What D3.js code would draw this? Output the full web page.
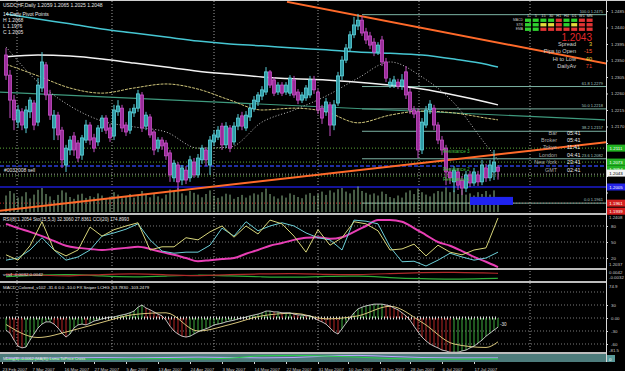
<!DOCTYPE html>
<html>
<head>
<meta charset="utf-8">
<title>USDCHF, Daily</title>
<script src="https://cdn.jsdelivr.net/npm/d3@7/dist/d3.min.js"></script>
<style>
  html, body { margin: 0; padding: 0; background: #000; overflow: hidden; }
  svg { display: block; font-family: "Liberation Sans", Arial, sans-serif; }
  .axis path, .axis line { stroke: #d8d8d8; }
  .axis text { fill: #c8c8c8; font-size: 4.4px; }
</style>
</head>
<body>
<script>
var w = 625,
    h = 371;

// daily bars, 23 Feb 2007 .. 24 Jul 2007
var opens = [
  1.2365,1.2310,1.2242,1.2182,1.2210,1.2166,1.2210,1.2234,1.2182,1.2275,
  1.2338,1.2256,1.2166,1.2201,1.2160,1.2065,1.2106,1.2144,1.2125,1.2092,
  1.2133,1.2174,1.2139,1.2128,1.2166,1.2193,1.2166,1.2144,1.2210,1.2220,
  1.2174,1.2160,1.2207,1.2220,1.2256,1.2171,1.2196,1.2155,1.2111,1.2133,
  1.2125,1.2098,1.2030,1.2065,1.2024,1.2051,1.2030,1.2073,1.2038,1.2079,
  1.2106,1.2065,1.2128,1.2141,1.2171,1.2120,1.2166,1.2128,1.2171,1.2199,
  1.2166,1.2196,1.2218,1.2237,1.2253,1.2264,1.2319,1.2297,1.2264,1.2283,
  1.2264,1.2261,1.2297,1.2264,1.2242,1.2248,1.2256,1.2297,1.2264,1.2220,
  1.2210,1.2229,1.2174,1.2234,1.2308,1.2351,1.2384,1.2420,1.2444,1.2460,
  1.2428,1.2417,1.2400,1.2373,1.2406,1.2346,1.2283,1.2283,1.2291,1.2280,
  1.2319,1.2264,1.2215,1.2210,1.2106,1.2174,1.2215,1.2220,1.2174,1.2133,
  1.2111,1.2046,1.2019,1.2046,1.2024,1.2002,1.2038,1.2016,1.2038,1.2019,
  1.2057,1.2030,1.2046,1.2059];
var highs = [
  1.2384,1.2324,1.2256,1.2229,1.2220,1.2226,1.2250,1.2242,1.2302,1.2373,
  1.2346,1.2270,1.2215,1.2210,1.2169,1.2120,1.2144,1.2155,1.2133,1.2147,
  1.2188,1.2182,1.2150,1.2174,1.2201,1.2201,1.2177,1.2229,1.2242,1.2229,
  1.2182,1.2220,1.2231,1.2270,1.2264,1.2210,1.2204,1.2160,1.2141,1.2141,
  1.2133,1.2106,1.2079,1.2073,1.2065,1.2062,1.2090,1.2084,1.2095,1.2120,
  1.2114,1.2144,1.2160,1.2171,1.2180,1.2182,1.2174,1.2182,1.2204,1.2210,
  1.2212,1.2231,1.2253,1.2264,1.2280,1.2332,1.2324,1.2305,1.2291,1.2291,
  1.2291,1.2310,1.2308,1.2272,1.2264,1.2283,1.2308,1.2308,1.2272,1.2229,
  1.2248,1.2237,1.2242,1.2319,1.2362,1.2395,1.2430,1.2469,1.2477,1.2471,
  1.2439,1.2428,1.2411,1.2400,1.2417,1.2357,1.2302,1.2308,1.2300,1.2313,
  1.2335,1.2275,1.2226,1.2220,1.2193,1.2226,1.2242,1.2229,1.2182,1.2144,
  1.2120,1.2057,1.2062,1.2057,1.2035,1.2049,1.2049,1.2057,1.2049,1.2079,
  1.2068,1.2079,1.2106,1.2065];
var lows = [
  1.2297,1.2193,1.2160,1.2166,1.2160,1.2152,1.2193,1.2160,1.2171,1.2264,
  1.2242,1.2188,1.2133,1.2133,1.2057,1.2046,1.2092,1.2090,1.2073,1.2079,
  1.2125,1.2120,1.2100,1.2117,1.2155,1.2150,1.2128,1.2133,1.2199,1.2155,
  1.2144,1.2150,1.2196,1.2210,1.2155,1.2160,1.2139,1.2092,1.2100,1.2106,
  1.2079,1.2019,1.2019,1.1997,1.2010,1.2013,1.2019,1.2030,1.2030,1.2068,
  1.2062,1.2038,1.2117,1.2133,1.2106,1.2111,1.2100,1.2120,1.2160,1.2160,
  1.2158,1.2185,1.2210,1.2226,1.2242,1.2256,1.2275,1.2253,1.2256,1.2253,
  1.2256,1.2253,1.2248,1.2231,1.2234,1.2240,1.2248,1.2259,1.2204,1.2177,
  1.2199,1.2144,1.2160,1.2226,1.2297,1.2343,1.2376,1.2411,1.2433,1.2417,
  1.2395,1.2381,1.2362,1.2365,1.2335,1.2291,1.2275,1.2275,1.2272,1.2270,
  1.2245,1.2204,1.2193,1.2084,1.2095,1.2166,1.2204,1.2160,1.2122,1.2092,
  1.2010,1.2013,1.1991,1.1997,1.1983,1.1991,1.2005,1.2008,1.2008,1.2010,
  1.2019,1.2021,1.2024,1.2025];
var closes = [
  1.2310,1.2242,1.2188,1.2215,1.2174,1.2215,1.2242,1.2174,1.2283,1.2346,
  1.2256,1.2201,1.2201,1.2147,1.2079,1.2111,1.2133,1.2106,1.2084,1.2139,
  1.2174,1.2133,1.2111,1.2166,1.2193,1.2160,1.2139,1.2215,1.2226,1.2166,
  1.2155,1.2210,1.2220,1.2259,1.2166,1.2201,1.2147,1.2106,1.2133,1.2117,
  1.2090,1.2038,1.2070,1.2019,1.2057,1.2024,1.2079,1.2038,1.2084,1.2111,
  1.2079,1.2133,1.2147,1.2160,1.2120,1.2171,1.2111,1.2171,1.2193,1.2171,
  1.2201,1.2220,1.2242,1.2256,1.2270,1.2319,1.2283,1.2261,1.2283,1.2261,
  1.2283,1.2302,1.2256,1.2242,1.2256,1.2275,1.2297,1.2270,1.2215,1.2193,
  1.2237,1.2174,1.2229,1.2308,1.2351,1.2384,1.2420,1.2447,1.2460,1.2425,
  1.2406,1.2392,1.2373,1.2392,1.2346,1.2302,1.2291,1.2297,1.2280,1.2297,
  1.2256,1.2215,1.2204,1.2106,1.2182,1.2215,1.2231,1.2174,1.2133,1.2106,
  1.2046,1.2030,1.2051,1.2010,1.2002,1.2038,1.2016,1.2046,1.2019,1.2065,
  1.2030,1.2065,1.2073,1.2048];
var volumes = [
  55,70,62,48,52,66,45,58,74,80, 60,52,40,57,72,65,50,44,58,61,
  47,53,49,62,55,43,51,66,58,46, 52,60,48,55,70,57,49,63,52,45,
  58,75,68,80,62,55,70,64,58,49, 60,72,54,47,52,61,58,44,50,57,
  48,55,62,58,66,78,60,52,45,55, 48,62,57,50,46,58,63,54,60,68,
  57,72,65,76,80,68,62,74,85,70, 64,58,62,55,68,60,50,46,55,48,
  65,72,60,78,66,58,52,62,70,68, 82,66,72,60,75,58,62,55,66,60,
  70,58,72,40];
var macd = [
  -28,-35,-51,-65,-69,-67,-51,-37,-23,-14, -9,-9,-14,-23,-35,-44,-37,-23,-16,-14,
  -16,-12,-7,-5,-2,0,2,2,5,7, 9,12,16,25,30,23,19,14,9,5,
  -5,-19,-30,-37,-42,-44,-42,-37,-32,-28, -25,-21,-16,-14,-12,-9,-7,-5,-2,0,
  2,5,7,9,12,16,16,14,14,12, 12,12,9,7,7,5,5,0,-5,-9,
  -14,-23,-32,-37,-25,-12,0,12,21,25, 28,30,32,32,32,30,28,23,19,12,
  5,-5,-19,-32,-44,-53,-60,-65,-69,-74, -76,-79,-79,-79,-76,-74,-69,-65,-58,-51,
  -42,-35,-28,-21];

// smoother lines, read every 8 bars
var sampleBars = [0, 8, 16, 24, 32, 40, 48, 56, 64, 72, 80, 88, 96, 104, 112, 120, 123];
var maCyan   = [1.2477,1.2463,1.2450,1.2436,1.2425,1.2414,1.2403,1.2395,1.2390,1.2384,1.2379,1.2373,1.2370,1.2365,1.2354,1.2340,1.2332];
var maWhite  = [1.2360,1.2365,1.2362,1.2354,1.2343,1.2332,1.2321,1.2313,1.2305,1.2300,1.2297,1.2291,1.2283,1.2272,1.2256,1.2237,1.2229];
var maKhaki  = [1.2340,1.2308,1.2275,1.2261,1.2275,1.2286,1.2272,1.2242,1.2215,1.2220,1.2210,1.2180,1.2201,1.2212,1.2207,1.2193,1.2188];
var maDotted = [1.2387,1.2291,1.2226,1.2185,1.2169,1.2155,1.2111,1.2114,1.2182,1.2215,1.2253,1.2302,1.2346,1.2305,1.2234,1.2120,1.2079];
var macdSignal = [-15,-45,-30,-10,8,12,-30,-15,5,11,-2,5,27,-10,-60,-68,-55];
var vsaRed   = [0.0012,0.0005,-0.0008,0.0010,0.0018,0.0006,-0.0004,0.0008,0.0015,0.0020,0.0010,0.0005,0.0018,0.0028,0.0030,0.0022,0.0020];
var vsaGreen = [-0.0010,0.0004,0.0012,-0.0005,-0.0015,-0.0005,0.0006,-0.0004,-0.0012,-0.0018,-0.0008,-0.0002,-0.0020,-0.0030,-0.0035,-0.0028,-0.0025];
var mlGreen  = [0.2,0.25,0.3,0.25,0.3,0.35,0.3,0.4,0.75,0.8,0.7,0.55,0.35,0.3,0.25,0.3,0.3];
var mlViolet = [0.45,0.4,0.45,0.5,0.45,0.5,0.55,0.5,0.45,0.5,0.7,0.8,0.65,0.5,0.45,0.45,0.45];

// oscillators, read every 3 bars
var oscBars = [0,3,6,9,12,15,18,21,24,27,30,33,36,39,42,45,48,51,54,57,60,63,66,69,72,75,78,81,84,87,90,93,96,99,102,105,108,111,114,117,120,123];
var rsiLine   = [84,76,69,61,52,43,39,37,35,37,39,41,37,31,26,20,14,16,18,20,28,35,43,48,54,58,59,56,59,69,80,91,91,88,76,63,50,43,33,22,13,3];
var stochLine = [16,20,35,58,35,16,22,35,61,67,74,84,54,33,29,31,31,44,76,61,88,71,80,86,80,67,58,54,35,91,89,84,41,13,14,5,16,29,22,16,20,31];
var cciLine   = [26,16,43,88,35,24,35,78,61,73,80,86,35,41,41,58,54,69,80,59,80,65,91,84,61,31,73,44,58,88,84,71,35,37,46,24,44,31,26,35,39,95];

var dateBars = [-1, 6.5, 14.5, 22, 30, 38, 46, 54, 62, 70, 78, 85.5, 93.5, 101, 109, 117];
var dateLabels = ["23 Feb 2007","7 Mar 2007","16 Mar 2007","27 Mar 2007","5 Apr 2007","13 Apr 2007",
  "24 Apr 2007","3 May 2007","14 May 2007","22 May 2007","31 May 2007","10 Jun 2007",
  "19 Jun 2007","28 Jun 2007","6 Jul 2007","17 Jul 2007"];
var gridBars = [2.75, 26.5, 52, 78, 103.25, 131];
var priceTicks = [1.2485,1.2440,1.2395,1.2350,1.2305,1.2260,1.2215,1.2170,1.2125,1.2080,1.2035,1.1990];

// drawn objects
var fibLevels = [100.0, 61.8, 50.0, 38.2, 23.6, 0.0];
var fibPrices = [1.2475, 1.2279, 1.2218, 1.2157, 1.2082, 1.1961];
var fibStartBar = 89;
var upperTrendBars = [70.25, 154.75], upperTrendPrices = [1.2510, 1.2332];
var lowerTrendBars = [-1.5, 154.75],  lowerTrendPrices = [1.1940, 1.2133];
var greenTrendBars = [-1.5, 149.75],  greenTrendPrices = [1.2264, 1.2188];
var resistNames = ["Resistance 3", "Resistance 2", "Resistance 1"];
var resistPrices = [1.2111, 1.2062, 1.2035];
var extraDotPrice = 1.2073;
var orderPrice = 1.2040, orderName = "#0032008 sell";
var blueLinePrice = 1.2005, redLinePrice = 1.1961;
var boxBars = [116, 126.75], boxPrices = [1.1978, 1.1956];
var greenMarks = [1.2111, 1.2073, 1.2054];
var bidPrice = 1.2043, blueMark = 1.2005, redMarks = [1.1961, 1.1939];

// info panel
var tfNames = ["1","5","15","30","H1","H4","D1","W1","MN"];
var sigRows = ["MACD","STR","EMA"];
var sigStates = ["GGGGRGGRR", "GGYYRGYRR", "GGRRRRRRR"];
var statNames = ["Spread", "Pips to Open", "Hi to Low", "DailyAv"];
var statValues = ["3", "-15", "40", "71"];
var clockNames = ["Bar", "Broker", "Tokyo", "London", "New York", "GMT"];
var clockValues = ["05:41", "05:41", "11:41", "04:41", "23:41", "02:41"];

var x = d3.scaleLinear().domain([0, 123]).range([6, 498]),
    yPrice = d3.scaleLinear().domain([1.2485, 1.1990]).range([11, 192.5]),
    yVol = d3.scaleLinear().domain([0, 100]).range([212, 182]),
    yOsc = d3.scaleLinear().domain([0, 100]).range([268.7, 215.3]),
    yVsa = d3.scaleLinear().domain([-0.005, 0.005]).range([281, 270]),
    yMacd = d3.scaleLinear().domain([0, -60]).range([318, 344]),
    yMl = d3.scaleLinear().domain([0, 1]).range([361, 354]);

var svg = d3.select("body").append("svg")
    .attr("width", w)
    .attr("height", h);

svg.append("rect").attr("width", w).attr("height", h).attr("fill", "#000");

var defs = svg.append("defs");
function clipRect(id, y0, y1) {
  defs.append("clipPath").attr("id", id).append("rect")
    .attr("x", 0).attr("y", y0).attr("width", 606).attr("height", y1 - y0);
}
clipRect("clip-main", 1, 213);
clipRect("clip-osc", 215, 268);
clipRect("clip-vsa", 270, 281);
clipRect("clip-macd", 283, 352);

// top border and panel separators
svg.append("line").attr("x1", 0).attr("x2", w).attr("y1", 0.5).attr("y2", 0.5)
  .attr("stroke", "#d0d0d0");
svg.append("g").selectAll("line").data([214, 269, 282, 353]).enter().append("line")
  .attr("x1", 0).attr("x2", 606)
  .attr("y1", function(d) { return d; }).attr("y2", function(d) { return d; })
  .attr("stroke", "#bdbdbd").attr("stroke-width", 2);

// vertical grid
svg.append("g").selectAll("line").data(gridBars).enter().append("line")
  .attr("x1", function(d) { return x(d); }).attr("x2", function(d) { return x(d); })
  .attr("y1", 1).attr("y2", 352)
  .attr("stroke", "#c8c8c8").attr("stroke-width", 0.8).attr("stroke-dasharray", "1,2");

// ---------- main panel ----------
var main = svg.append("g").attr("clip-path", "url(#clip-main)");

function hline(g, price, color, dash, width) {
  g.append("line").attr("x1", 0).attr("x2", 606)
    .attr("y1", yPrice(price)).attr("y2", yPrice(price))
    .attr("stroke", color).attr("stroke-width", width || 1)
    .attr("stroke-dasharray", dash);
}
resistPrices.forEach(function(p, i) {
  if (i === 1) hline(main, p, "#2a3fd8", "4,2", 1.5);
  else hline(main, p, "#5da83a", "1,2");
});
hline(main, extraDotPrice, "#5da83a", "1,2");
hline(main, orderPrice, "#a0a0a0", "1,2");
hline(main, blueLinePrice, "#14149a", null, 2);
hline(main, redLinePrice, "#c02020", "1,2");

// fibonacci retracement
main.selectAll(".fib").data(fibPrices).enter().append("line")
  .attr("x1", x(fibStartBar)).attr("x2", 606)
  .attr("y1", function(d) { return yPrice(d); }).attr("y2", function(d) { return yPrice(d); })
  .attr("stroke", "#7cb3a4").attr("stroke-width", 1);

// volumes
main.selectAll(".vol").data(volumes).enter().append("line")
  .attr("x1", function(d, i) { return x(i); }).attr("x2", function(d, i) { return x(i); })
  .attr("y1", yVol(0)).attr("y2", function(d) { return yVol(d); })
  .attr("stroke", "#8db98a").attr("stroke-width", 1);

main.append("rect")
  .attr("x", x(boxBars[0])).attr("width", x(boxBars[1]) - x(boxBars[0]))
  .attr("y", yPrice(boxPrices[0])).attr("height", yPrice(boxPrices[1]) - yPrice(boxPrices[0]))
  .attr("fill", "#1f23f0");

function trend(bars, prices, color, width) {
  main.append("line")
    .attr("x1", x(bars[0])).attr("y1", yPrice(prices[0]))
    .attr("x2", x(bars[1])).attr("y2", yPrice(prices[1]))
    .attr("stroke", color).attr("stroke-width", width);
}
trend(greenTrendBars, greenTrendPrices, "#3f9a7e", 1.2);

var sampleLine = d3.line()
  .x(function(d, i) { return x(sampleBars[i]); })
  .y(function(d) { return yPrice(d); })
  .curve(d3.curveMonotoneX);

function ma(values, color, width, dash) {
  main.append("path").datum(values).attr("d", sampleLine)
    .attr("fill", "none").attr("stroke", color)
    .attr("stroke-width", width).attr("stroke-dasharray", dash);
}
ma(maCyan, "#46c6d2", 1.5);
ma(maWhite, "#f2f2f2", 1.5);
ma(maKhaki, "#cfc57a", 1, "3,1");
ma(maDotted, "#d8d8d8", 0.9, "1,2");

trend(upperTrendBars, upperTrendPrices, "#ff6a2a", 2);
trend(lowerTrendBars, lowerTrendPrices, "#ff6a2a", 2);

// candles
var bars = d3.range(opens.length);
main.selectAll(".wick").data(bars).enter().append("line")
  .attr("x1", function(i) { return x(i); }).attr("x2", function(i) { return x(i); })
  .attr("y1", function(i) { return yPrice(highs[i]); })
  .attr("y2", function(i) { return yPrice(lows[i]); })
  .attr("stroke", function(i) { return closes[i] >= opens[i] ? "#58cdd6" : "#c24fc2"; });

main.selectAll(".body").data(bars).enter().append("rect")
  .attr("x", function(i) { return x(i) - 1.5; })
  .attr("width", 3)
  .attr("y", function(i) { return yPrice(Math.max(opens[i], closes[i])); })
  .attr("height", function(i) {
    return Math.max(1, Math.abs(yPrice(opens[i]) - yPrice(closes[i])));
  })
  .attr("fill", function(i) { return closes[i] >= opens[i] ? "#2f9aa4" : "#9a2c9a"; })
  .attr("stroke", function(i) { return closes[i] >= opens[i] ? "#5fd3dc" : "#c850c8"; })
  .attr("stroke-width", 0.8);

// main panel labels
var txt = svg.append("g").attr("font-size", 5).attr("fill", "#e6e6e6");
txt.append("text").attr("x", 3).attr("y", 7)
  .text("USDCHF,Daily  " + [opens[123], highs[123], lows[123], closes[123]]
    .map(d3.format(".4f")).join(" "));
txt.append("text").attr("x", 3).attr("y", 16).text("14 Daily Pivot Points");
txt.append("text").attr("x", 3).attr("y", 22).text("H 1.2068");
txt.append("text").attr("x", 3).attr("y", 28).text("L 1.1976");
txt.append("text").attr("x", 3).attr("y", 34).text("C 1.2005");
txt.append("text").attr("x", 4).attr("y", yPrice(orderPrice) - 2).text(orderName);

svg.append("g").selectAll("text").data(resistNames).enter().append("text")
  .attr("x", 443).attr("y", function(d, i) { return yPrice(resistPrices[i]) + 4.5; })
  .attr("font-size", 4.6).attr("fill", "#46c040")
  .text(function(d) { return d; });

svg.append("g").selectAll("text").data(fibLevels).enter().append("text")
  .attr("x", 603).attr("y", function(d, i) { return yPrice(fibPrices[i]) - 2; })
  .attr("text-anchor", "end").attr("font-size", 4).attr("fill", "#a8c8c0")
  .text(function(d, i) { return d3.format(".1f")(d) + " " + d3.format(".4f")(fibPrices[i]); });

// signal grid
var grid = svg.append("g");
grid.selectAll(".tf").data(tfNames).enter().append("text")
  .attr("x", function(d, i) { return 528 + i * 7.7; }).attr("y", 17.2)
  .attr("text-anchor", "middle").attr("font-size", 3.8).attr("fill", "#d8d8d8")
  .text(function(d) { return d; });
grid.selectAll(".row").data(sigRows).enter().append("text")
  .attr("x", 523).attr("y", function(d, i) { return 21.4 + i * 4.5; })
  .attr("text-anchor", "end").attr("font-size", 3.4).attr("fill", "#c8c8c8")
  .text(function(d) { return d; });
var stateColor = { G: "#2fd12f", R: "#e23434", Y: "#e6dc3c" };
sigStates.forEach(function(row, r) {
  grid.selectAll(".c" + r).data(row.split("")).enter().append("rect")
    .attr("x", function(d, i) { return 525 + i * 7.7; })
    .attr("y", 18.6 + r * 4.5).attr("width", 6).attr("height", 3.3)
    .attr("fill", function(d) { return stateColor[d]; });
});

svg.append("text").attr("x", 592).attr("y", 40.5)
  .attr("text-anchor", "end").attr("font-size", 10).attr("fill", "#e4272a")
  .text(d3.format(".4f")(bidPrice));

var statColors = ["#e8d838", "#ff5a2a", "#e8d838", "#e8402e"];
statNames.forEach(function(name, i) {
  var yy = 46 + i * 7.4;
  svg.append("text").attr("x", 576).attr("y", yy).attr("text-anchor", "end")
    .attr("font-size", 5.6).attr("fill", "#d0d0d0").text(name);
  svg.append("text").attr("x", 592).attr("y", yy).attr("text-anchor", "end")
    .attr("font-size", 5.6).attr("fill", statColors[i]).text(statValues[i]);
});

clockNames.forEach(function(name, i) {
  var yy = 134.5 + i * 7.4;
  svg.append("text").attr("x", 557).attr("y", yy).attr("text-anchor", "end")
    .attr("font-size", 5.4).attr("fill", "#a8a8a8").text(name);
  svg.append("text").attr("x", 567).attr("y", yy)
    .attr("font-size", 5.4).attr("fill", "#ececec").text(clockValues[i]);
});

// ---------- oscillator panel ----------
var osc = svg.append("g").attr("clip-path", "url(#clip-osc)");
osc.selectAll("line").data([80, 50, 20]).enter().append("line")
  .attr("x1", 0).attr("x2", 606)
  .attr("y1", function(d) { return yOsc(d); }).attr("y2", function(d) { return yOsc(d); })
  .attr("stroke", "#9a9a9a").attr("stroke-width", 0.8).attr("stroke-dasharray", "1,2");

var oscLine = d3.line()
  .x(function(d, i) { return x(oscBars[i]); })
  .y(function(d) { return yOsc(d); });
osc.append("path").datum(rsiLine).attr("d", oscLine.curve(d3.curveMonotoneX))
  .attr("fill", "none").attr("stroke", "#e83fb5").attr("stroke-width", 2);
oscLine.curve(d3.curveLinear);
osc.append("path").datum(stochLine).attr("d", oscLine)
  .attr("fill", "none").attr("stroke", "#6ccfd8").attr("stroke-width", 1);
osc.append("path").datum(cciLine).attr("d", oscLine)
  .attr("fill", "none").attr("stroke", "#d8d67a").attr("stroke-width", 1);

svg.append("text").attr("x", 3).attr("y", 220.5).attr("font-size", 4.6).attr("fill", "#e6e6e6")
  .text("RSI(8) 1.2054   Sto(15,5,3) 32.3060 27.8361   CCI(20) 174.8993");

// ---------- vsa panel ----------
var vsa = svg.append("g").attr("clip-path", "url(#clip-vsa)");
var vsaLine = d3.line()
  .x(function(d, i) { return x(sampleBars[i]); })
  .y(function(d) { return yVsa(d); })
  .curve(d3.curveBasis);
vsa.append("path").datum(vsaGreen).attr("d", vsaLine)
  .attr("fill", "none").attr("stroke", "#2fae3a").attr("stroke-width", 1.2);
vsa.append("path").datum(vsaRed).attr("d", vsaLine)
  .attr("fill", "none").attr("stroke", "#b02a2a").attr("stroke-width", 1.2);
svg.append("text").attr("x", 3).attr("y", 276).attr("font-size", 4.4).attr("fill", "#e6e6e6")
  .text("vsa4 -0.0032 0.0042");

// ---------- MACD panel ----------
var mp = svg.append("g").attr("clip-path", "url(#clip-macd)");
mp.selectAll("line.grid").data([60, 30, 0, -30, -60]).enter().append("line")
  .attr("x1", 0).attr("x2", 606)
  .attr("y1", function(d) { return yMacd(d); }).attr("y2", function(d) { return yMacd(d); })
  .attr("stroke", "#9a9a9a").attr("stroke-width", 0.8).attr("stroke-dasharray", "1,2");
mp.append("line").attr("x1", x(0)).attr("x2", x(123))
  .attr("y1", yMacd(0)).attr("y2", yMacd(0))
  .attr("stroke", "#e0e0e0").attr("stroke-width", 3).attr("stroke-dasharray", "1,2");
mp.selectAll(".hist").data(macd).enter().append("line")
  .attr("x1", function(d, i) { return x(i); }).attr("x2", function(d, i) { return x(i); })
  .attr("y1", yMacd(0)).attr("y2", function(d) { return yMacd(d); })
  .attr("stroke", function(d, i) { return i > 0 && d < macd[i - 1] ? "#b82424" : "#3fae3f"; })
  .attr("stroke-width", 1);
mp.append("path").datum(macdSignal)
  .attr("d", d3.line().x(function(d, i) { return x(sampleBars[i]); })
    .y(function(d) { return yMacd(d); }).curve(d3.curveMonotoneX))
  .attr("fill", "none").attr("stroke", "#d6c47a").attr("stroke-width", 1);
mp.append("path").datum(macd)
  .attr("d", d3.line().x(function(d, i) { return x(i); }).y(function(d) { return yMacd(d); }))
  .attr("fill", "none").attr("stroke", "#ececec").attr("stroke-width", 0.8);
svg.append("text").attr("x", x(123) + 2).attr("y", yMacd(macd[123]) - 1)
  .attr("font-size", 4.6).attr("fill", "#e6e6e6").text("-30");
svg.append("text").attr("x", 3).attr("y", 288.5).attr("font-size", 4.4).attr("fill", "#e6e6e6")
  .text("MACD_Colored_v102 -31.6 0.0 -10.0  FX Sniper  LCHG -63.7830 -103.2479");

// ---------- bottom strip ----------
svg.append("rect").attr("x", 0).attr("y", 354).attr("width", 606).attr("height", 8)
  .attr("fill", "#4d7b7b");
var mlLine = d3.line()
  .x(function(d, i) { return x(sampleBars[i]); })
  .y(function(d) { return yMl(d); })
  .curve(d3.curveMonotoneX);
svg.append("path").datum(mlViolet).attr("d", mlLine)
  .attr("fill", "none").attr("stroke", "#b8a8ff").attr("stroke-width", 1);
svg.append("path").datum(mlGreen).attr("d", mlLine)
  .attr("fill", "none").attr("stroke", "#28d04a").attr("stroke-width", 1);
svg.append("text").attr("x", 3).attr("y", 359.5).attr("font-size", 4).attr("fill", "#e6e6e6")
  .text("MLtrig(8) -0.0062 (MA(8)) Lsma ToPrice Cross");

// ---------- axes ----------
var allMarks = greenMarks.concat([bidPrice, blueMark], redMarks);
var priceAxis = svg.append("g").attr("class", "axis")
  .attr("transform", "translate(606,0)")
  .call(d3.axisRight(yPrice).tickValues(priceTicks).tickSize(2).tickFormat(d3.format(".4f")));
priceAxis.select(".domain").attr("d", "M0.5,0V362");
// labels hidden under the coloured price boxes
priceAxis.selectAll(".tick")
  .filter(function(d) {
    return allMarks.some(function(m) { return Math.abs(yPrice(m) - yPrice(d)) < 6; });
  })
  .select("text").remove();

svg.append("g").attr("class", "axis").attr("transform", "translate(606,0)")
  .call(d3.axisRight(yOsc).tickValues([80, 50, 20]).tickSize(2))
  .select(".domain").remove();
svg.append("g").attr("class", "axis").attr("transform", "translate(606,0)")
  .call(d3.axisRight(yMacd).tickValues([30, 0, -30, -60]).tickSize(2)
    .tickFormat(function(d) { return d === 0 ? "0.00" : d; }))
  .select(".domain").remove();

var sideText = svg.append("g").attr("font-size", 4.4).attr("fill", "#c8c8c8");
sideText.append("text").attr("x", 609).attr("y", 219).text("1.2408");
sideText.append("text").attr("x", 609).attr("y", 266).text("1.2037");
sideText.append("text").attr("x", 609).attr("y", 274).text("0.0042");
sideText.append("text").attr("x", 609).attr("y", 279).text("-0.0032");
sideText.append("text").attr("x", 609).attr("y", 287.5).text("74.9");
sideText.append("text").attr("x", 609).attr("y", 351.5).text("-81.5");

function mark(price, fill, color) {
  var yy = yPrice(price);
  svg.append("rect").attr("x", 607).attr("y", yy - 3.5).attr("width", 18).attr("height", 7)
    .attr("fill", fill);
  svg.append("text").attr("x", 616).attr("y", yy + 1.6).attr("text-anchor", "middle")
    .attr("font-size", 4.4).attr("fill", color).text(d3.format(".4f")(price));
}
greenMarks.forEach(function(p) { mark(p, "#22b322", "#ffffff"); });
mark(bidPrice, "#f2f2f2", "#000000");
mark(blueMark, "#2323e6", "#ffffff");
redMarks.forEach(function(p) { mark(p, "#d42020", "#ffffff"); });

svg.append("rect").attr("x", 607).attr("y", 355).attr("width", 8).attr("height", 7)
  .attr("fill", "#5a9a9a");
svg.append("text").attr("x", 609).attr("y", 360.5).attr("font-size", 4.4)
  .attr("fill", "#ffffff").text("0");

var dateAxis = svg.append("g").attr("class", "axis")
  .attr("transform", "translate(0,362)")
  .call(d3.axisBottom(x).tickValues(dateBars).tickSize(2)
    .tickFormat(function(d, i) { return dateLabels[i]; }));
dateAxis.select(".domain").remove();
dateAxis.selectAll("text").attr("text-anchor", "start").attr("dy", "0.9em");
</script>
</body>
</html>
